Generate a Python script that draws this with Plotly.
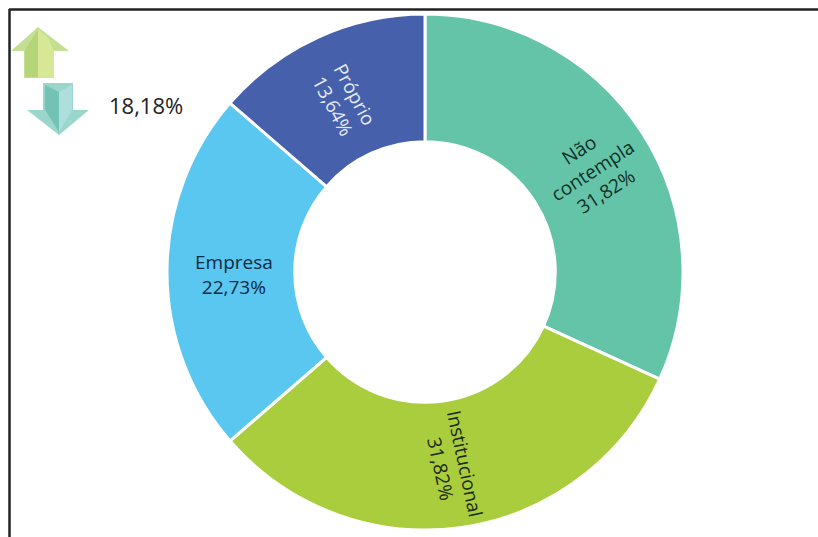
import plotly.graph_objects as go

W, H = 818, 537

categories = ["Não<br>contempla", "Institucional", "Empresa", "Próprio"]
shares = [31.82, 31.82, 22.73, 13.64]
slice_colors = ["#64C4A8", "#A9CD3C", "#59C7EF", "#4760AC"]
label_colors = ["#0F2F28", "#1A2A10", "#0E2A45", "#E4ECF8"]
label_x = [592, 453, 234, 344]
label_y = [170, 466, 274, 100]
label_angles = [-33, 78, 0, 62]
side_note = "18,18%"


def fmt(value):
    return f"{value:.2f}%".replace(".", ",")


def px(x):
    return x / W


def py(y):
    return 1 - y / H


def poly(points, fill):
    path = "M " + " L ".join(f"{px(x):.5f},{py(y):.5f}" for x, y in points) + " Z"
    return dict(type="path", xref="paper", yref="paper", path=path,
                fillcolor=fill, line=dict(width=0), layer="above")


fig = go.Figure(go.Pie(
    values=shares,
    labels=categories,
    sort=False,
    direction="clockwise",
    rotation=0,
    hole=0.505,
    textinfo="none",
    marker=dict(colors=slice_colors, line=dict(color="#FFFFFF", width=3)),
    domain=dict(x=[px(167), px(683)], y=[py(530), py(14)]),
    showlegend=False,
))

annotations = [
    dict(x=px(x), y=py(y), xref="paper", yref="paper", showarrow=False,
         xanchor="center", yanchor="middle",
         text=f"{c}<br>{fmt(v)}", textangle=a, align="center",
         font=dict(family="Open Sans", size=19, color=col))
    for c, v, x, y, a, col in zip(categories, shares, label_x, label_y, label_angles, label_colors)
]
annotations.append(dict(x=px(146), y=py(105), xref="paper", yref="paper", showarrow=False,
                        xanchor="center", yanchor="middle",
                        text=side_note, font=dict(family="Open Sans", size=22, color="#222222")))

shapes = [
    # frame around the chart
    dict(type="line", xref="paper", yref="paper", x0=px(9), x1=1, y0=py(9.5), y1=py(9.5),
         line=dict(color="#222222", width=2.5), layer="above"),
    dict(type="line", xref="paper", yref="paper", x0=px(9.5), x1=px(9.5), y0=0, y1=py(9),
         line=dict(color="#222222", width=2.5), layer="above"),
    # up arrow
    poly([(38, 27), (11, 51), (24, 51), (24, 78), (54, 78), (54, 51), (69, 51)], "#C4DF93"),
    poly([(38, 29), (38, 78), (54, 78), (54, 51), (48, 38)], "#D6E896"),
    poly([(38, 29), (25, 50), (25, 77), (38, 77)], "#B4D678"),
    # down arrow
    poly([(43, 83), (43, 110), (27, 110), (59, 135), (89, 110), (73, 110), (73, 83)], "#9AD6CC"),
    poly([(45, 85), (45, 110), (59, 132), (59, 92)], "#72C2B6"),
    poly([(59, 92), (59, 132), (72, 110), (72, 85)], "#AEDFDC"),
]

fig.update_layout(
    width=W, height=H,
    margin=dict(l=0, r=0, t=0, b=0),
    paper_bgcolor="#FFFFFF",
    annotations=annotations,
    shapes=shapes,
)

fig.write_html("out.html", config=dict(displayModeBar=False))
